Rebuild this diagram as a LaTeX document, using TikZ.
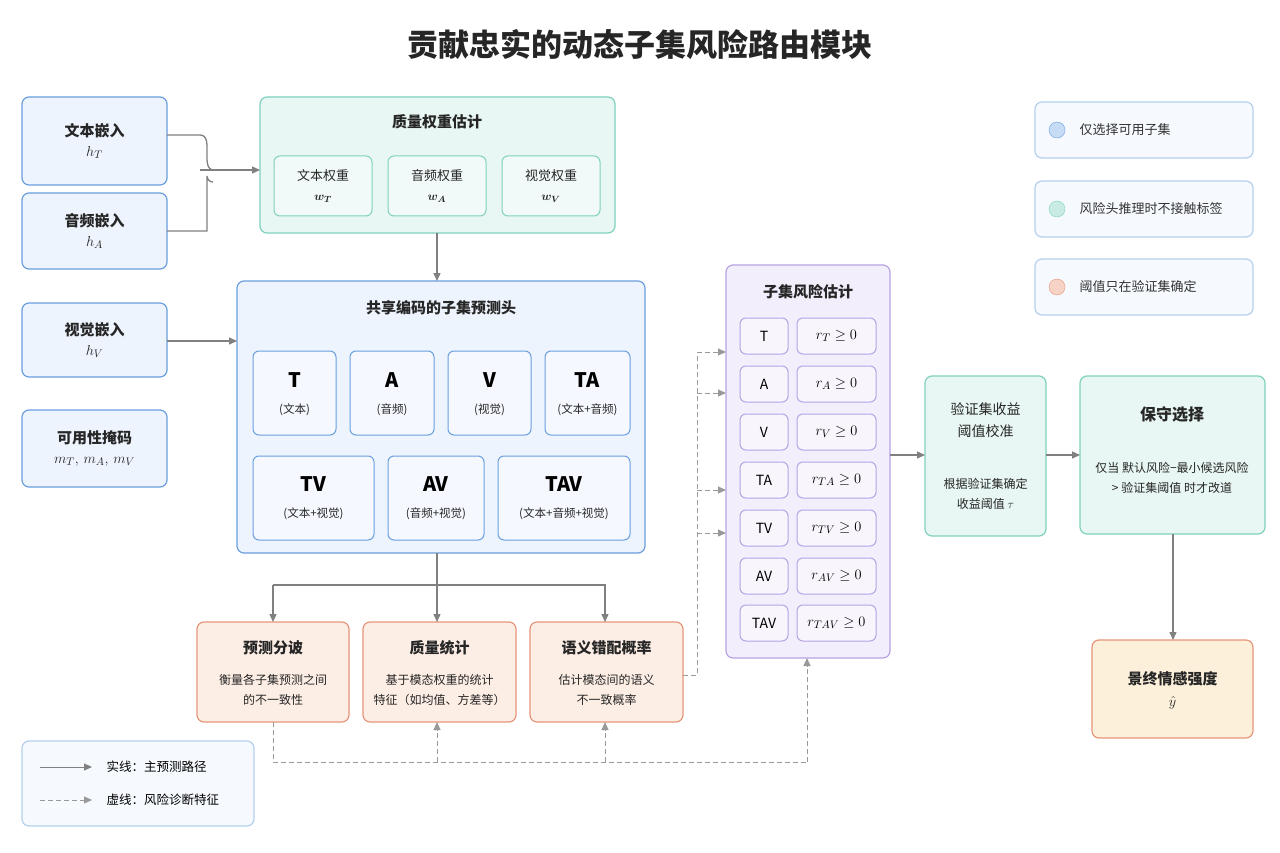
\documentclass[tikz,border=0pt]{standalone}
\usepackage{amsmath,bm}
\usepackage{fontspec}
\setmainfont{Noto Sans CJK SC}
\usetikzlibrary{arrows.meta}
\definecolor{bS}{HTML}{6A9FE0}\definecolor{bF}{HTML}{EEF4FD}
\definecolor{tS}{HTML}{7FD1BE}\definecolor{tF}{HTML}{E8F7F3}
\definecolor{oS}{HTML}{E6957A}\definecolor{oF}{HTML}{FDEEE5}
\definecolor{pS}{HTML}{B7A3E3}\definecolor{pF}{HTML}{F3EEFC}
\definecolor{yF}{HTML}{FDF0DB}\definecolor{ar}{HTML}{808080}
\begin{document}
\begin{tikzpicture}[x=1pt,y=-1pt,
 box/.style={draw=#1S,fill=#1F,line width=1.2pt,rounded corners=7pt},
 ibox/.style={draw=#1S,fill=white!40!#1F,line width=1pt,rounded corners=6pt},
 arr/.style={draw=ar,line width=1.3pt,-{Triangle[length=8pt,width=7pt]}},
 darr/.style={draw=ar!80,line width=1pt,dash pattern=on 5pt off 3pt,-{Triangle[length=8pt,width=7pt]}},
 dln/.style={draw=ar!80,line width=1pt,dash pattern=on 5pt off 3pt},
 t/.style={font=\fontsize{15}{18}\selectfont\bfseries,text=black!85},
 s/.style={font=\fontsize{12}{20}\selectfont,text=black!85,align=center}]
\useasboundingbox (0,0) rectangle (1280,853);
\fill[white] (0,0) rectangle (1280,853);
\node[font=\fontsize{31}{36}\selectfont\bfseries,text=black!85] (title) at (640,45) {贡献忠实的动态子集风险路由模块};
% left inputs
\draw[box=b] (22,97) rectangle (167,185); \node[t,align=center] (e1) at (94.5,141) {文本嵌入\\[2pt]$h_T$};
\draw[box=b] (22,193) rectangle (167,269); \node[t,align=center] (e2) at (94.5,231) {音频嵌入\\[2pt]$h_A$};
\draw[box=b] (22,303) rectangle (167,377); \node[t,align=center] (e3) at (94.5,340) {视觉嵌入\\[2pt]$h_V$};
\draw[box=b] (22,410) rectangle (167,487); \node[t,align=center] (e4) at (94.5,448) {可用性掩码\\[2pt]$m_T,\,m_A,\,m_V$};
% quality box
\draw[box=t] (260,97) rectangle (615,233);
\node[t] (q) at (437,122) {质量权重估计};
\foreach \x/\a/\b in {274/文本权重/w_T,388/音频权重/w_A,502/视觉权重/w_V}{
 \draw[ibox=t] (\x,156) rectangle ++(98,60);
 \node[s,font=\fontsize{13}{20}\selectfont] at (\x+49,186) {\a\\$\bm{\b}$};}
\coordinate (qin) at (260,170);
\draw[ar,line width=1.3pt] (167,135) -- (200,135) to[out=0,in=180] (214,170);
\draw[ar,line width=1.3pt] (167,231) -- (207,231) -- (207,176) arc[start angle=180,end angle=90,radius=6];
\draw[arr] (200,170) -- (qin);
% shared head
\draw[box=b] (237,281) rectangle (645,553);
\node[t] (sh) at (441,308) {共享编码的子集预测头};
\foreach \xa/\xb/\n/\d in {253/336/T/文本,350/434/A/音频,448/531/V/视觉,545/630/TA/文本+音频}{
 \draw[ibox=b] (\xa,351) rectangle (\xb,435);
 \node[font=\fontsize{20}{24}\selectfont\bfseries] at ({(\xa+\xb)/2},380) {\n};
 \node[s,font=\fontsize{11.5}{14}\selectfont] at ({(\xa+\xb)/2},410) {(\d)};}
\foreach \xa/\xb/\n/\d in {253/374/TV/文本+视觉,388/484/AV/音频+视觉,498/630/TAV/文本+音频+视觉}{
 \draw[ibox=b] (\xa,456) rectangle (\xb,540);
 \node[font=\fontsize{20}{24}\selectfont\bfseries] at ({(\xa+\xb)/2},484) {\n};
 \node[s,font=\fontsize{11.5}{14}\selectfont] at ({(\xa+\xb)/2},514) {(\d)};}
\draw[arr] (437,233) -- (437,281);
\draw[arr] (167,341) -- (237,341);
% bottom diagnostics
\draw[box=o] (197,622) rectangle (349,722); \node[t] (d1) at (273,648) {预测分诐}; \node[s] at (273,690) {衡量各子集预测之间\\的不一致性};
\draw[box=o] (363,622) rectangle (516,722); \node[t] (d2) at (439.5,648) {质量统计}; \node[s] at (439.5,690) {基于模态权重的统计\\特征（如均值、方差等）};
\draw[box=o] (530,622) rectangle (683,722); \node[t] (d3) at (606.5,648) {语义错配概率}; \node[s] at (606.5,690) {估计模态间的语义\\不一致概率};
\draw[ar,line width=1.3pt] (437,553) -- (437,585);
\draw[arr] (273,585) -- (273,622);
\draw[arr] (273,585) -- (605,585) -- (605,622);
\draw[arr] (437,585) -- (437,622);
% risk box
\draw[box=p] (726,265) rectangle (890,658);
\node[t] (rk) at (808,292) {子集风险估计};
\foreach \y/\n/\r in {336/T/r_T,384/A/r_A,432/V/r_V,480/TA/r_{TA},528/TV/r_{TV},576/AV/r_{AV},623/TAV/r_{TAV}}{
 \draw[ibox=p] (740,\y-18) rectangle (788,\y+18);
 \node[font=\fontsize{14}{16}\selectfont] at (764,\y) {\n};
 \draw[ibox=p] (797,\y-18) rectangle (876,\y+18);
 \node[font=\fontsize{15}{16}\selectfont] at (836.5,\y) {$\r\geq 0$};}
% dashed connections
\draw[dln] (683,675) -- (697,675) -- (697,352);
\foreach \y in {352,393,490,533} \draw[darr] (697,\y) -- (726,\y);
\draw[dln] (273,722) -- (273,762) -- (807,762);
\draw[darr] (807,762) -- (807,658);
\draw[darr] (437,762) -- (437,722);
\draw[darr] (605,762) -- (605,722);
% validation and selection
\draw[box=t] (925,376) rectangle (1046,536);
\node[s,font=\fontsize{14}{22}\selectfont] (va) at (985.5,420) {验证集收益\\阈值校准};
\node[s] at (985.5,494) {根据验证集确定\\收益阈值 $\tau$};
\draw[arr] (890,455) -- (925,455);
\draw[box=t] (1080,376) rectangle (1265,534);
\node[t,font=\fontsize{16}{20}\selectfont\bfseries] (cs) at (1172,414) {保守选择};
\node[s] at (1172,478) {仅当 默认风险−最小候选风险\\> 验证集阈值 时才改道};
\draw[arr] (1046,455) -- (1080,455);
\draw[box=o,fill=yF] (1092,640) rectangle (1253,738);
\node[t,align=center] (fin) at (1172.5,690) {景终情感强度\\[4pt]$\hat{y}$};
\draw[arr] (1173,534) -- (1173,640);
% legends
\foreach \y/\c/\tx in {130/b/仅选择可用子集,209/t/风险头推理时不接触标签,287/o/阈值只在验证集确定}{
 \draw[box=b,draw=bS!50,fill=bF!50] (1035,\y-28) rectangle (1253,\y+28);
 \fill[\c F!70!\c S, draw=\c S] (1057,\y) circle (8);
 \node[anchor=west,font=\fontsize{13}{16}\selectfont,text=black!80] at (1076,\y) {\tx};}
\draw[box=b,draw=bS!50,fill=bF!50] (22,741) rectangle (254,826);
\coordinate (l1) at (40,767); \coordinate (l1e) at (92,767);
\coordinate (l2) at (40,800); \coordinate (l2e) at (92,800);
\draw[arr,line width=1pt] (l1) -- (l1e);
\draw[darr] (l2) -- (l2e);
\node[anchor=west,font=\fontsize{12.5}{16}\selectfont] at (103,767) {实线：主预测路径};
\node[anchor=west,font=\fontsize{12.5}{16}\selectfont] at (103,800) {虚线：风险诊断特征};
\end{tikzpicture}
\end{document}
